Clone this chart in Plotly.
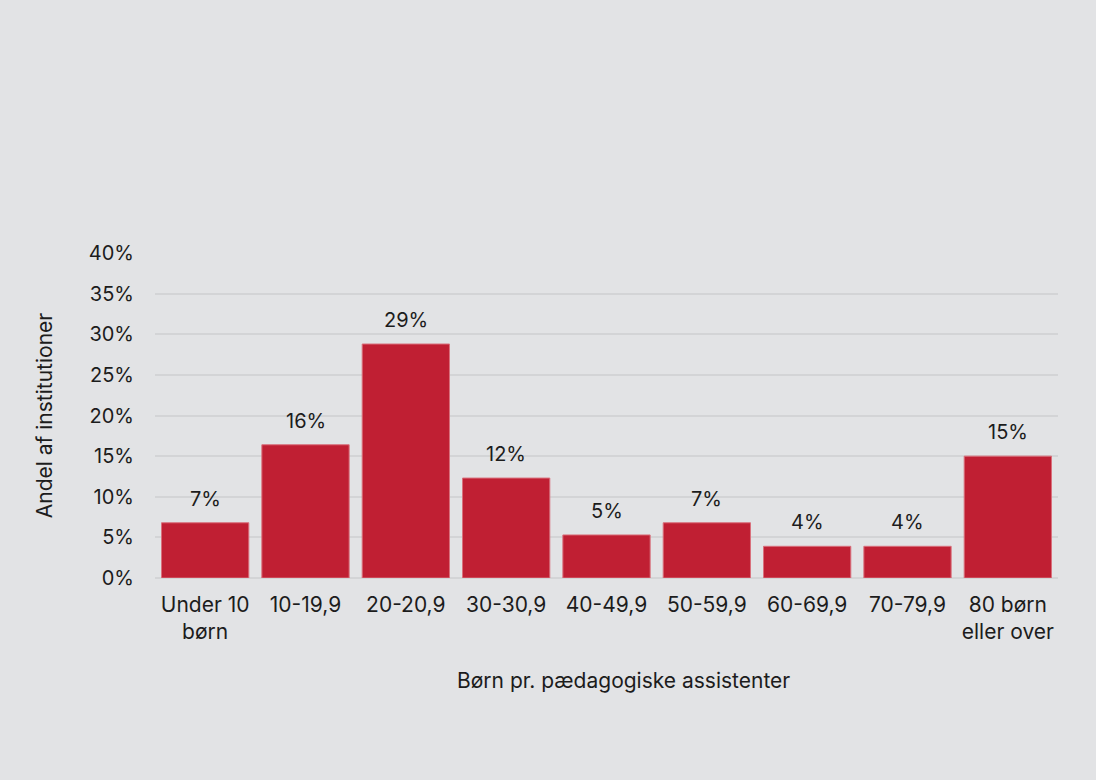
import plotly.graph_objects as go

categories = ["Under 10<br>børn", "10-19,9", "20-20,9", "30-30,9", "40-49,9",
              "50-59,9", "60-69,9", "70-79,9", "80 børn<br>eller over"]
shares = [0.068, 0.164, 0.288, 0.123, 0.053, 0.068, 0.039, 0.039, 0.150]
y_ticks = [0, 0.05, 0.10, 0.15, 0.20, 0.25, 0.30, 0.35, 0.40]

BG = "#e2e3e5"
FONT = "Inter, Roboto, sans-serif"
TXT = "#1c1c1c"

fig = go.Figure(go.Bar(
    x=categories, y=shares,
    marker=dict(color="#c01f33", line=dict(color="#d9707c", width=1)),
    hoverinfo="skip",
))

for c, v in zip(categories, shares):
    fig.add_annotation(
        x=c, y=v, text=f"{v:.0%}", showarrow=False,
        yanchor="bottom", yshift=10,
        font=dict(size=20, color=TXT, family=FONT),
    )

# x-axis title (placed slightly right of centre as in the reference)
fig.add_annotation(
    xref="paper", yref="paper", x=0.519, y=-0.314,
    xanchor="center", yanchor="middle", showarrow=False,
    text="Børn pr. pædagogiske assistenter",
    font=dict(size=21, color=TXT, family=FONT),
)

fig.update_layout(
    width=1096, height=780,
    paper_bgcolor=BG, plot_bgcolor=BG,
    margin=dict(l=155, r=38, t=253, b=202),
    bargap=0.13,
    showlegend=False,
    font=dict(family=FONT, size=21, color=TXT),
)
fig.update_xaxes(
    tickfont=dict(size=21), showgrid=False, showline=False,
    ticks="", ticklabelstandoff=12,
)
fig.update_yaxes(
    title=dict(text="Andel af institutioner", font=dict(size=21), standoff=30),
    range=[0, 0.4], tickvals=y_ticks, tickformat=".0%",
    tickfont=dict(size=20), gridcolor="#d3d4d6", gridwidth=1.5,
    zeroline=True, zerolinecolor="#d3d4d6", zerolinewidth=1.5,
    showline=False, ticks="", ticklabelstandoff=20,
)

fig.write_html("out.html",
               config={"displayModeBar": False},
               post_script="document.body.style.margin='0';"
                           "document.body.style.background='" + BG + "';")
